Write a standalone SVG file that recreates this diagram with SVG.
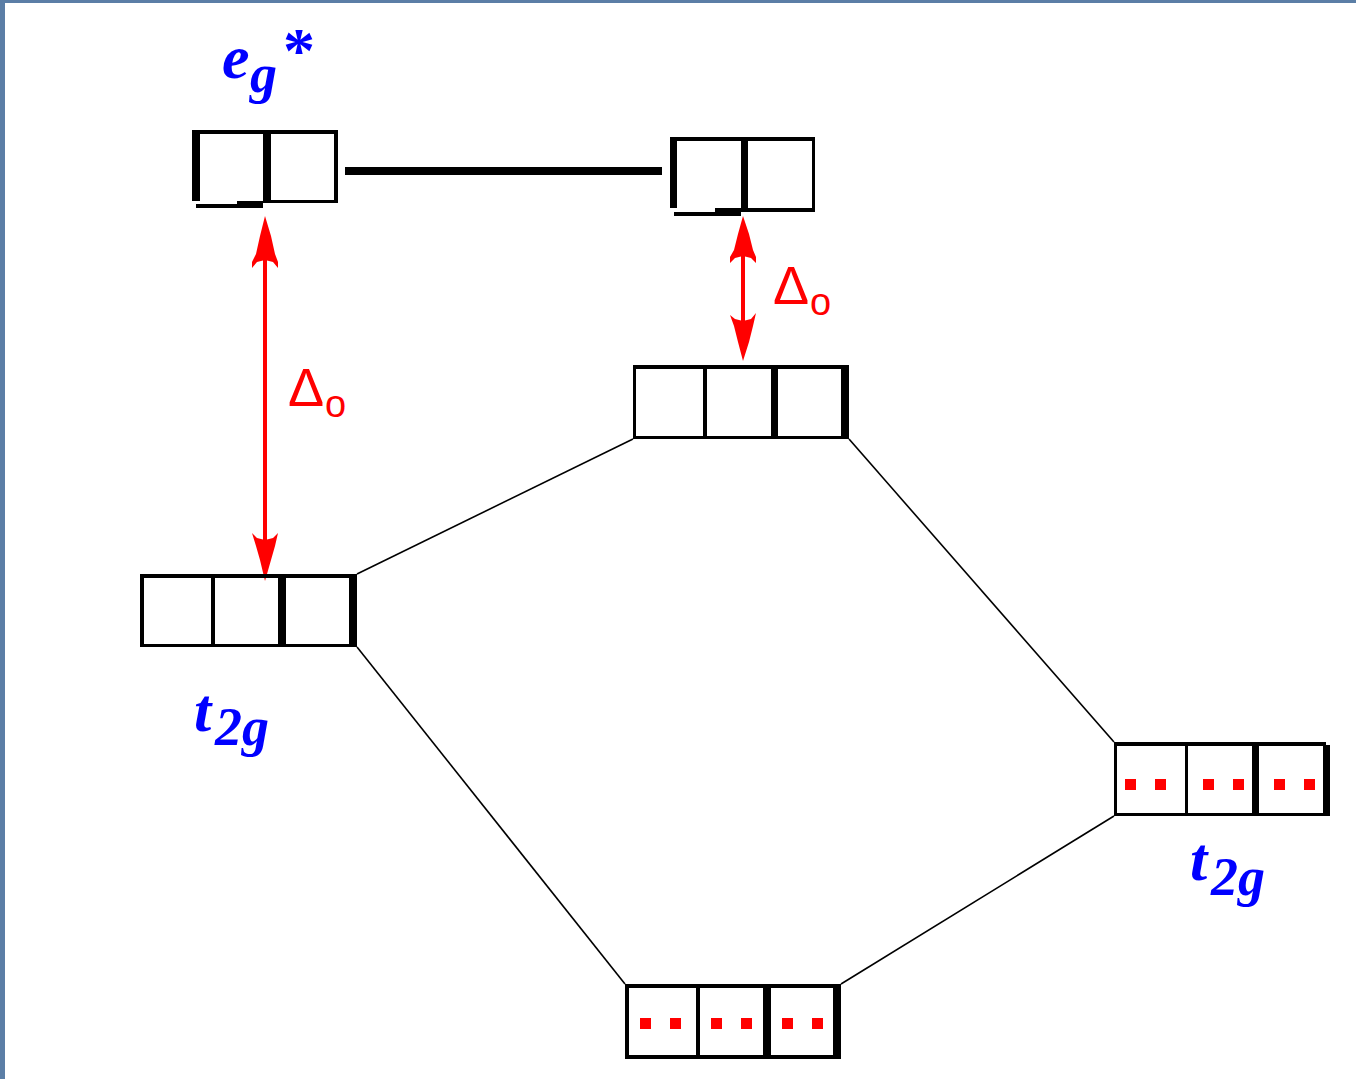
<svg xmlns="http://www.w3.org/2000/svg" width="1356" height="1079" viewBox="0 0 1356 1079">
<style>
.w{fill:#000}
.dot{fill:#ff0000}
.conn{stroke:#000;stroke-width:1.6;fill:none}
.arr{fill:#ff0000}
.shaft{stroke:#ff0000;stroke-width:4}
.lab{font-family:"Liberation Serif","DejaVu Serif",serif;font-style:italic;font-weight:bold;fill:#0000ff}
.delta{font-family:"Liberation Sans","DejaVu Sans",sans-serif;fill:#ff0000}
</style>
<rect x="0" y="0" width="1356" height="1079" fill="#ffffff"/>
<rect x="0" y="0" width="1356" height="3" fill="#5b7ea6"/>
<rect x="0" y="0" width="5" height="1079" fill="#5b7ea6"/>

<g id="connectors">
<line class="conn" x1="357" y1="574" x2="633" y2="439"/>
<line class="conn" x1="849" y1="439" x2="1114" y2="742"/>
<line class="conn" x1="357" y1="647" x2="625" y2="984"/>
<line class="conn" x1="841" y1="984" x2="1114" y2="816"/>
<rect class="w" x="345" y="167" width="317" height="8"/>
<g id="arrow-left">
<line class="shaft" x1="265" y1="225" x2="265" y2="572"/>
<path class="arr" d="M265,216 L271,236 L275,254 L278,262 L278,268 L273,262 L265,260 L257,262 L252,268 L252,262 L256,254 L260,236 Z"/>
<path class="arr" d="M265,581 L260,560 L256,546 L252,533 L257,538 L265,540 L273,538 L278,533 L275,546 L271,560 Z"/>
</g>
<g id="arrow-right">
<line class="shaft" x1="743" y1="225" x2="743" y2="352"/>
<path class="arr" d="M743,216 L749,234 L753,250 L756,257 L756,263 L751,258 L743,256 L735,258 L730,263 L730,257 L734,250 L738,234 Z"/>
<path class="arr" d="M743,361 L738,342 L734,326 L730,315 L735,319 L743,321 L751,319 L756,313 L753,326 L749,342 Z"/>
</g>
</g>

<g id="eg-left">
<rect class="w" x="192" y="130" width="146" height="4"/>
<rect class="w" x="192" y="130" width="8" height="71"/>
<rect class="w" x="263" y="130" width="8" height="73"/>
<rect class="w" x="334" y="130" width="4" height="73"/>
<rect class="w" x="263" y="200" width="75" height="3"/>
<rect class="w" x="196" y="204" width="67" height="4"/>
<rect class="w" x="237" y="201" width="26" height="4"/>
</g>

<g id="eg-right">
<rect class="w" x="670" y="137" width="145" height="4"/>
<rect class="w" x="670" y="137" width="7" height="71"/>
<rect class="w" x="741" y="137" width="7" height="75"/>
<rect class="w" x="812" y="137" width="3" height="75"/>
<rect class="w" x="741" y="208" width="74" height="4"/>
<rect class="w" x="674" y="212" width="67" height="4"/>
<rect class="w" x="715" y="208" width="26" height="4"/>
</g>

<g id="t2g-mid">
<rect class="w" x="633" y="365" width="216" height="4"/>
<rect class="w" x="633" y="365" width="3" height="74"/>
<rect class="w" x="703" y="365" width="4" height="74"/>
<rect class="w" x="771" y="365" width="7" height="74"/>
<rect class="w" x="841" y="365" width="4" height="74"/>
<rect class="w" x="845" y="369" width="4" height="70"/>
<rect class="w" x="633" y="436" width="216" height="3"/>
</g>

<g id="t2g-left">
<rect class="w" x="140" y="574" width="217" height="4"/>
<rect class="w" x="140" y="574" width="4" height="73"/>
<rect class="w" x="211" y="574" width="4" height="73"/>
<rect class="w" x="278" y="574" width="8" height="73"/>
<rect class="w" x="349" y="574" width="8" height="73"/>
<rect class="w" x="140" y="644" width="217" height="3"/>
</g>

<g id="t2g-right">
<rect class="w" x="1114" y="742" width="212" height="4"/>
<rect class="w" x="1114" y="742" width="3" height="74"/>
<rect class="w" x="1185" y="742" width="3" height="74"/>
<rect class="w" x="1252" y="742" width="7" height="74"/>
<rect class="w" x="1323" y="745" width="7" height="71"/>
<rect class="w" x="1114" y="813" width="216" height="3"/>
<rect class="dot" x="1125" y="779" width="11" height="11"/>
<rect class="dot" x="1155" y="779" width="11" height="11"/>
<rect class="dot" x="1203" y="779" width="11" height="11"/>
<rect class="dot" x="1233" y="779" width="11" height="11"/>
<rect class="dot" x="1274" y="779" width="11" height="11"/>
<rect class="dot" x="1304" y="779" width="11" height="11"/>
</g>

<g id="bottom-box">
<rect class="w" x="625" y="984" width="216" height="4"/>
<rect class="w" x="625" y="984" width="4" height="75"/>
<rect class="w" x="696" y="984" width="4" height="75"/>
<rect class="w" x="763" y="984" width="8" height="75"/>
<rect class="w" x="833" y="984" width="8" height="75"/>
<rect class="w" x="625" y="1055" width="216" height="4"/>
<rect class="dot" x="640" y="1018" width="11" height="11"/>
<rect class="dot" x="670" y="1018" width="11" height="11"/>
<rect class="dot" x="711" y="1018" width="11" height="11"/>
<rect class="dot" x="741" y="1018" width="11" height="11"/>
<rect class="dot" x="782" y="1018" width="11" height="11"/>
<rect class="dot" x="812" y="1018" width="11" height="11"/>
</g>

<g id="labels">
<text class="lab" x="222" y="78" font-size="62">e<tspan x="250" y="92" font-size="54">g</tspan><tspan x="283" y="72" font-size="64" font-style="normal">*</tspan></text>
<text class="lab" x="194" y="731" font-size="62">t<tspan x="215" y="745" font-size="54">2</tspan><tspan x="242" y="745" font-size="54">g</tspan></text>
<text class="lab" x="1190" y="880" font-size="62">t<tspan x="1211" y="895" font-size="54">2</tspan><tspan x="1238" y="895" font-size="54">g</tspan></text>
<text class="delta" x="288" y="406" font-size="54">Δ<tspan x="325" y="417" font-size="38">o</tspan></text>
<text class="delta" x="773" y="304" font-size="54">Δ<tspan x="810" y="315" font-size="38">o</tspan></text>
</g>
</svg>
